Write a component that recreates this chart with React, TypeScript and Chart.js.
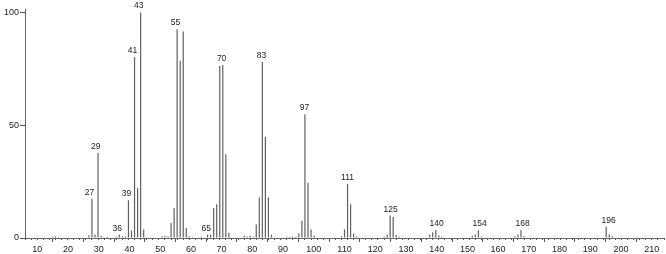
import React, { useEffect, useRef } from "react";
import { Chart, registerables } from "chart.js";

Chart.register(...registerables);

const mzValues = [
  14, 15, 16, 26, 27, 28, 29, 30, 31, 32, 35, 36, 37, 38, 39, 40, 41, 42, 43, 44, 45,
  50, 51, 52, 53, 54, 55, 56, 57, 58, 59, 60, 63, 65, 66, 67, 68, 69, 70, 71, 72, 73,
  77, 78, 79, 80, 81, 82, 83, 84, 85, 86, 91, 92, 93, 94, 95, 96, 97, 98, 99, 100,
  109, 110, 111, 112, 113, 114, 123, 124, 125, 126, 127, 128, 138, 139, 140, 141, 142,
  152, 153, 154, 155, 166, 167, 168, 169, 196, 197, 198,
];
const intensities = [
  0.6, 0.8, 0.4, 1.2, 17.4, 1.6, 37.7, 1.0, 0.4, 0.6, 0.5, 1.4, 0.8, 0.7, 16.7, 3.3, 80.2, 22.1, 100, 3.8, 0.3,
  0.8, 1.0, 0.8, 6.7, 13.3, 92.5, 78.6, 91.5, 4.4, 0.8, 0.4, 0.6, 1.5, 1.5, 13.3, 15.0, 76.2, 76.7, 37.1, 2.3, 0.3,
  1.0, 0.7, 1.0, 0.6, 6.0, 18.0, 78.0, 44.8, 18.0, 1.5, 0.6, 0.4, 0.7, 0.6, 2.0, 7.6, 54.9, 24.5, 3.8, 1.0,
  0.7, 3.8, 24.0, 15.0, 1.9, 0.7, 0.5, 1.5, 10.0, 9.3, 1.3, 0.5, 1.5, 2.6, 3.5, 1.2, 0.6,
  1.0, 1.5, 3.4, 0.6, 0.8, 1.5, 3.6, 0.8, 5.0, 1.5, 0.8,
];
const labeledPeaks = [27, 29, 36, 39, 41, 43, 55, 65, 70, 83, 97, 111, 125, 140, 154, 168, 196];
const xMajorTicks = [10, 20, 30, 40, 50, 60, 70, 80, 90, 100, 110, 120, 130, 140, 150, 160, 170, 180, 190, 200, 210];
const yTicks = [0, 50, 100];
const X_MIN = 6;
const X_MAX = 214;
const Y_MAX = 101.5;

const FONT_FAMILY = "'Liberation Sans', 'DejaVu Sans', sans-serif";

const peakLabelPlugin = {
  id: "peakLabels",
  afterDatasetsDraw(chart: any) {
    const { ctx } = chart;
    const xs = chart.scales.x;
    const ys = chart.scales.y;
    ctx.save();
    ctx.font = `8.5px ${FONT_FAMILY}`;
    ctx.fillStyle = "#222";
    ctx.textAlign = "center";
    ctx.textBaseline = "bottom";
    labeledPeaks.forEach((mz) => {
      const i = mzValues.indexOf(mz);
      if (i < 0) return;
      const px = xs.getPixelForValue(mz);
      const py = ys.getPixelForValue(intensities[i]);
      ctx.fillText(String(mz), px, py - 2);
    });
    ctx.restore();
  },
};

export default function App() {
  const canvasRef = useRef<HTMLCanvasElement | null>(null);

  useEffect(() => {
    document.body.style.margin = "0";
    const canvas = canvasRef.current;
    if (!canvas) return;
    const minorTicks: number[] = [];
    for (let v = X_MIN; v <= X_MAX; v += 2) minorTicks.push(v);

    const chart = new Chart(canvas, {
      type: "bar",
      data: {
        datasets: [
          {
            data: mzValues.map((x, i) => ({ x, y: intensities[i] })),
            backgroundColor: "#606060",
            borderWidth: 0,
            barThickness: 1.2,
            inflateAmount: 0,
          } as any,
        ],
      },
      options: {
        animation: false,
        responsive: false,
        devicePixelRatio: 1,
        layout: { padding: { top: 9, right: 2, left: 0, bottom: 0 } },
        plugins: {
          legend: { display: false },
          tooltip: { enabled: false },
        },
        scales: {
          x2: {
            type: "linear",
            position: "bottom",
            weight: 0,
            min: X_MIN,
            max: X_MAX,
            afterBuildTicks: (scale: any) => {
              scale.ticks = minorTicks.map((v) => ({ value: v }));
            },
            afterFit: (scale: any) => {
              scale.height = 0;
            },
            ticks: { display: false },
            grid: {
              drawOnChartArea: false,
              drawTicks: true,
              tickLength: 2,
              tickColor: "#555",
              tickWidth: 1,
            },
            border: { display: false },
          },
          x: {
            type: "linear",
            position: "bottom",
            weight: 1,
            min: X_MIN,
            max: X_MAX,
            offset: false,
            afterBuildTicks: (scale: any) => {
              scale.ticks = xMajorTicks.map((v) => ({ value: v }));
            },
            afterFit: (scale: any) => {
              scale.height = 16;
            },
            ticks: {
              autoSkip: false,
              maxRotation: 0,
              padding: 2,
              color: "#222",
              font: { family: FONT_FAMILY, size: 9 },
              callback: (v: any) => String(v),
            },
            grid: {
              drawOnChartArea: false,
              drawTicks: true,
              tickLength: 4,
              tickColor: "#555",
            },
            border: { display: true, color: "#666", width: 1 },
          },
          y: {
            type: "linear",
            min: 0,
            max: Y_MAX,
            afterBuildTicks: (scale: any) => {
              scale.ticks = yTicks.map((v) => ({ value: v }));
            },
            afterFit: (scale: any) => {
              scale.width = 25;
            },
            ticks: {
              padding: 1,
              color: "#222",
              font: { family: FONT_FAMILY, size: 9 },
              callback: (v: any) => String(v),
            },
            grid: {
              drawOnChartArea: false,
              drawTicks: true,
              tickLength: 5,
              tickColor: "#555",
            },
            border: { display: true, color: "#666", width: 1 },
          },
        },
      } as any,
      plugins: [peakLabelPlugin],
    });
    return () => chart.destroy();
  }, []);

  return <canvas ref={canvasRef} width={666} height={254} style={{ display: "block" }} />;
}
